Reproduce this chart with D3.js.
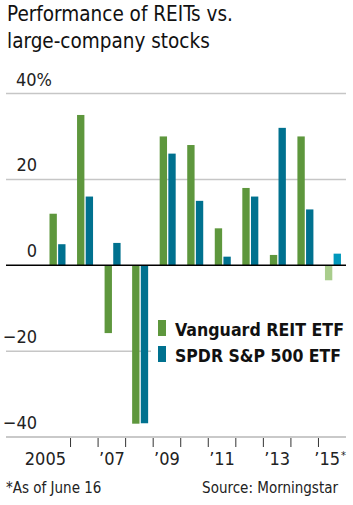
<!DOCTYPE html>
<html lang="en">
<head>
    <meta charset="UTF-8">
    <title>REITs vs stocks</title>
    <script src="https://cdn.jsdelivr.net/npm/d3@7"></script>
</head>
<style>
    body { margin: 0; background: #fff; }
    svg { font-family: "DejaVu Sans Condensed", "Liberation Sans Narrow", sans-serif; }
</style>
<body>
    <div id="graphDiv"></div>

    <script>
        // Data
        var years = ['2005','2006','2007','2008','2009','2010','2011','2012','2013','2014','2015']
        var reit = [12.0, 35.0, -15.8, -36.9, 30.0, 28.0, 8.6, 18.0, 2.4, 30.0, -3.5]
        var spy = [4.9, 16.0, 5.2, -36.8, 26.0, 15.0, 2.0, 16.0, 32.0, 13.0, 2.7]
        var seriesNames = ['Vanguard REIT ETF', 'SPDR S&P 500 ETF']
        var yTicks = [40, 20, 0, -20, -40]
        var xLabels = {'2005': '2005', '2007': '\u201907', '2009': '\u201909', '2011': '\u201911', '2013': '\u201913', '2015': '\u201915'}

        var width = 353
        var height = 505

        var svg = d3.select('#graphDiv')
                    .append('svg')
                    .attr('width', width)
                    .attr('height', height)

        // Title
        var title = svg.append('text')
                        .attr('x', 7)
                        .attr('y', 21)
                        .attr('font-size', 20.5)
                        .attr('fill', '#111')
        title.append('tspan').attr('x', 7).text('Performance of REITs vs.')
        title.append('tspan').attr('x', 7).attr('dy', 27).text('large-company stocks')

        // Scales
        var yScale = d3.scaleLinear()
                        .domain([-40, 40])
                        .range([437, 93.5])

        var xScale = d3.scaleBand()
                        .domain(years)
                        .range([43, 346])

        var inner = d3.scaleBand()
                        .domain(['reit', 'spy'])
                        .range([6.5, 22.5])
                        .paddingInner(0.15)

        // Gridlines
        svg.append('g')
            .selectAll('line')
            .data(yTicks.filter(d => d !== 0))
            .join('line')
            .attr('x1', 6)
            .attr('x2', 346)
            .attr('y1', d => yScale(d))
            .attr('y2', d => yScale(d))
            .attr('stroke', '#c6c6c6')
            .attr('stroke-width', 1.5)

        // Y labels
        svg.append('g')
            .selectAll('text')
            .data(yTicks)
            .join('text')
            .attr('x', d => d === 40 ? 16 : 37)
            .attr('y', d => yScale(d) - 8)
            .attr('text-anchor', d => d === 40 ? 'start' : 'end')
            .attr('font-size', 18)
            .attr('fill', '#222')
            .text(d => d === 40 ? '40%' : (d < 0 ? '\u2212' + Math.abs(d) : d))

        // Legend background (hides the grid behind it)
        svg.append('rect')
            .attr('x', 151)
            .attr('y', 314)
            .attr('width', 195)
            .attr('height', 54)
            .attr('fill', '#fff')

        // Bars
        var rows = years.map((y, i) => ({ year: y, reit: reit[i], spy: spy[i] }))
        var colors = { reit: '#5e973d', spy: '#00718f' }
        var partial = { reit: '#a9cd8c', spy: '#0098bc' }

        svg.append('g')
            .selectAll('g')
            .data(rows)
            .join('g')
            .attr('transform', d => `translate(${xScale(d.year)}, 0)`)
            .selectAll('rect')
            .data(d => [
                { year: d.year, key: 'reit', value: d.reit },
                { year: d.year, key: 'spy', value: d.spy }
            ])
            .join('rect')
            .attr('x', d => inner(d.key))
            .attr('y', d => yScale(Math.max(0, d.value)))
            .attr('width', inner.bandwidth())
            .attr('height', d => Math.abs(yScale(d.value) - yScale(0)))
            .attr('fill', d => d.year === '2015' ? partial[d.key] : colors[d.key])

        // Zero line
        svg.append('line')
            .attr('x1', 6)
            .attr('x2', 346)
            .attr('y1', yScale(0))
            .attr('y2', yScale(0))
            .attr('stroke', '#000')
            .attr('stroke-width', 1.5)

        // Bottom axis
        var axisG = svg.append('g')
                        .attr('transform', `translate(0, ${yScale(-40)})`)
        axisG.append('line')
            .attr('x1', 6)
            .attr('x2', 346)
            .attr('stroke', '#c6c6c6')
            .attr('stroke-width', 1.5)
        axisG.selectAll('.tick')
            .data(years.slice(1))
            .join('line')
            .attr('x1', d => xScale(d))
            .attr('x2', d => xScale(d))
            .attr('y1', 1)
            .attr('y2', 10)
            .attr('stroke', '#333')
            .attr('stroke-width', 1)

        axisG.selectAll('text')
            .data(years.filter(d => xLabels[d]))
            .join('text')
            .attr('x', d => d === '2005' ? xScale(d) + 23 : (d === '2015' ? 340 : xScale(d) + xScale.bandwidth() / 2))
            .attr('y', 28)
            .attr('text-anchor', d => d === '2005' || d === '2015' ? 'end' : 'middle')
            .attr('font-size', 18)
            .attr('fill', '#222')
            .text(d => xLabels[d])
        axisG.append('text')
            .attr('x', 341)
            .attr('y', 22)
            .attr('font-size', 11)
            .attr('fill', '#222')
            .text('*')

        // Legend
        var legend = svg.append('g')
                        .attr('transform', 'translate(158, 320)')
        legend.selectAll('rect')
            .data(['reit', 'spy'])
            .join('rect')
            .attr('x', 0)
            .attr('y', (d, i) => i * 26)
            .attr('width', 8)
            .attr('height', 16)
            .attr('fill', d => colors[d])
        legend.selectAll('text')
            .data(seriesNames)
            .join('text')
            .attr('x', 17)
            .attr('y', (d, i) => 16 + i * 26)
            .attr('font-size', 18)
            .attr('font-weight', 'bold')
            .attr('textLength', (d, i) => i === 0 ? 169 : 166)
            .attr('lengthAdjust', 'spacingAndGlyphs')
            .attr('fill', '#111')
            .text(d => d)

        // Footer
        svg.append('text')
            .attr('x', 6)
            .attr('y', 493)
            .attr('font-size', 15)
            .attr('fill', '#222')
            .text('*As of June 16')
        svg.append('text')
            .attr('x', 338)
            .attr('y', 493)
            .attr('text-anchor', 'end')
            .attr('font-size', 15)
            .attr('fill', '#222')
            .text('Source: Morningstar')
    </script>
</body>
</html>
